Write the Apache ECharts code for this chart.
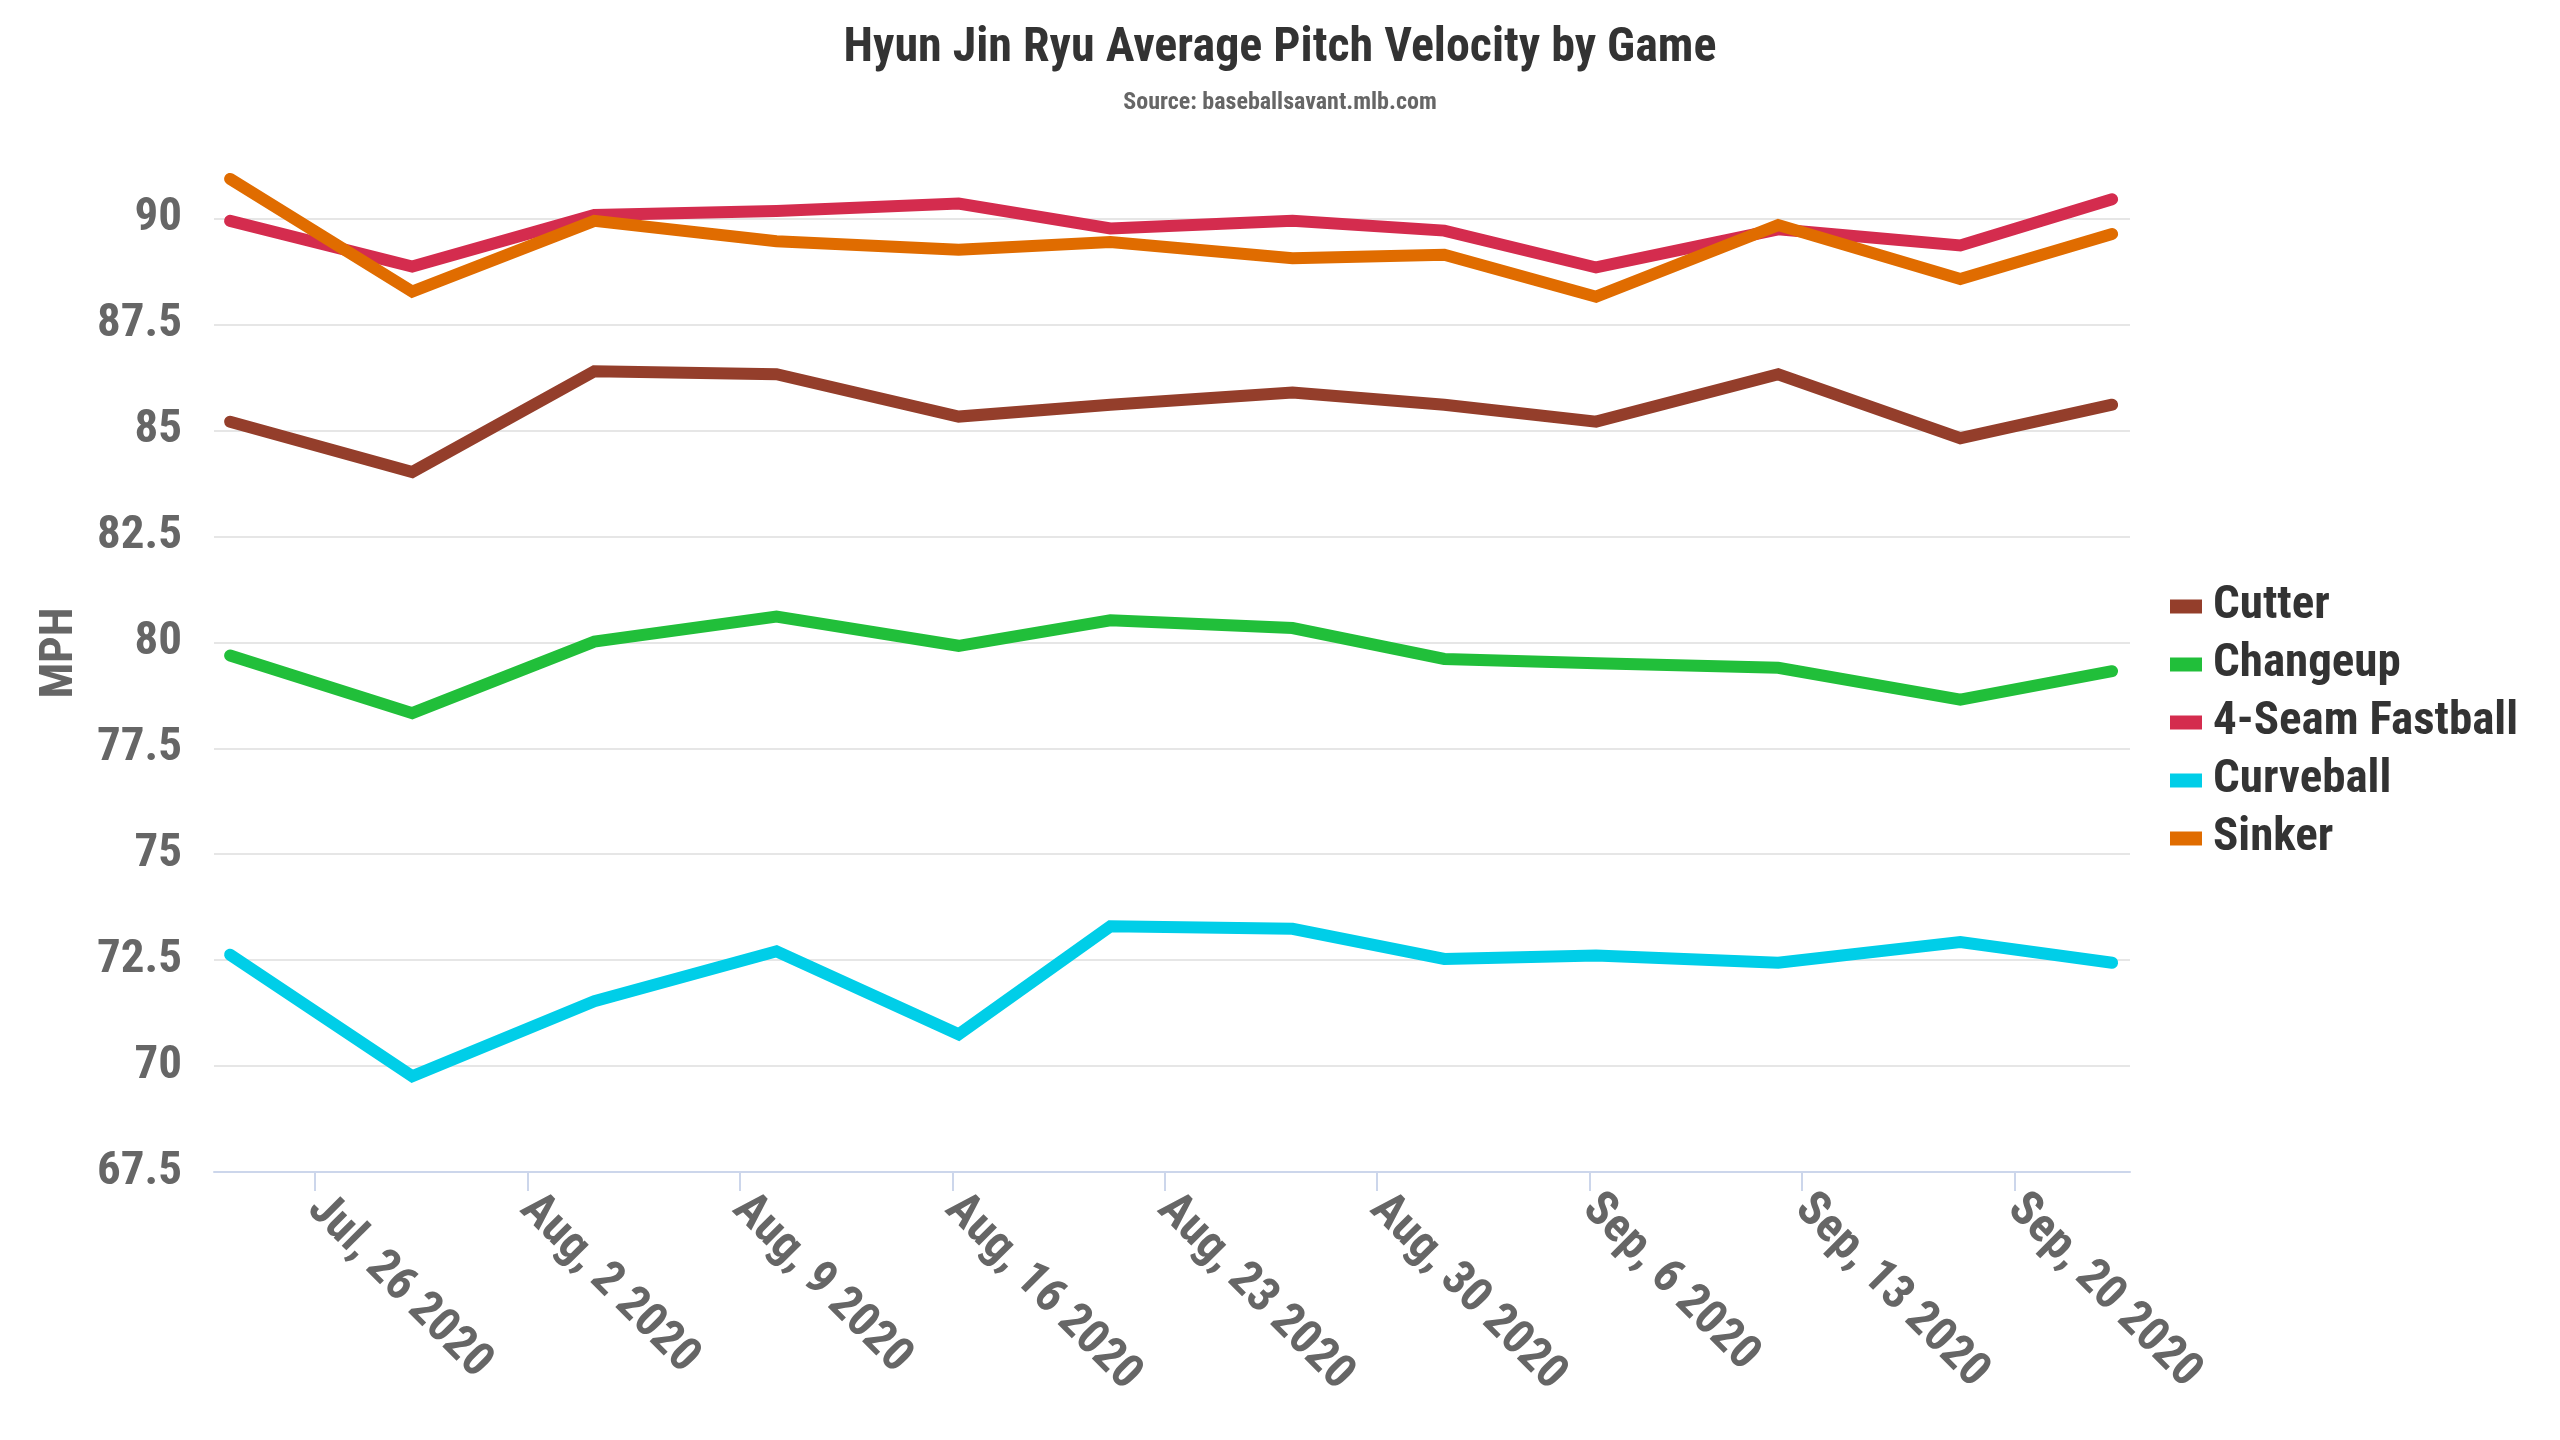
<!DOCTYPE html>
<html>
<head>
<meta charset="utf-8">
<script src="https://cdn.jsdelivr.net/npm/echarts@6/dist/echarts.min.js"></script>
<style>
html,body{margin:0;padding:0;background:#fff;}
#chart{width:2560px;height:1440px;}
</style>
</head>
<body>
<div id="chart"></div>
<script>
// ---- data ----
const gameDates = ['2020-07-24','2020-07-30','2020-08-05','2020-08-11','2020-08-17','2020-08-22',
                   '2020-08-28','2020-09-02','2020-09-07','2020-09-13','2020-09-19','2020-09-24'];
const cutter    = [85.21, 84.02, 86.40, 86.33, 85.33, 85.61, 85.90, 85.61, 85.21, 86.33, 84.82, 85.61];
const changeup  = [79.69, 78.33, 80.02, 80.61, 79.92, 80.52, 80.34, 79.61, 79.51, 79.40, 78.65, 79.32];
const fastball  = [89.95, 88.87, 90.09, 90.18, 90.36, 89.77, 89.95, 89.72, 88.85, 89.75, 89.37, 90.46];
const curveball = [72.63, 69.76, 71.53, 72.71, 70.75, 73.30, 73.24, 72.53, 72.61, 72.44, 72.93, 72.44];
const sinker    = [90.94, 88.28, 89.95, 89.47, 89.27, 89.45, 89.07, 89.15, 88.16, 89.85, 88.58, 89.64];
const seriesNames = ['Cutter','Changeup','4-Seam Fastball','Curveball','Sinker'];
const tickDates  = ['2020-07-26','2020-08-02','2020-08-09','2020-08-16','2020-08-23',
                    '2020-08-30','2020-09-06','2020-09-13','2020-09-20'];
const tickLabels = ['Jul, 26 2020','Aug, 2 2020','Aug, 9 2020','Aug, 16 2020','Aug, 23 2020',
                    'Aug, 30 2020','Sep, 6 2020','Sep, 13 2020','Sep, 20 2020'];
const yTicks = { min: 67.5, max: 92, interval: 2.5 };

// ---- helpers ----
const DAY = 86400000;
const TICK_SHIFT = 19 * 3600000; // week ticks in the source sit ~19h after UTC midnight
function ms(s){ const p = s.split('-').map(Number); return Date.UTC(p[0], p[1]-1, p[2]); }
const xs = gameDates.map(ms);
const tickVals = tickDates.map(d => ms(d) + TICK_SHIFT);
const xMin = xs[0] - 0.53 * DAY;
const xMax = xs[xs.length-1] + 0.59 * DAY;

const colors = ['#943e2b','#21bf3a','#d42c4e','#00cee8','#e06c00'];
const values = [cutter, changeup, fastball, curveball, sinker];

const chart = echarts.init(document.getElementById('chart'), null, {renderer:'canvas'});
const cond = "'Roboto Condensed', 'Roboto', sans-serif";

chart.setOption({
  animation: false,
  backgroundColor: '#ffffff',
  color: colors,
  title: {
    text: 'Hyun Jin Ryu Average Pitch Velocity by Game',
    subtext: 'Source: baseballsavant.mlb.com',
    left: 'center',
    top: 20,
    itemGap: 18,
    textStyle: { fontFamily: cond, fontWeight: 'bold', fontSize: 48, color: '#333333' },
    subtextStyle: { fontFamily: cond, fontWeight: 'bold', fontSize: 24, color: '#666666' }
  },
  legend: {
    orient: 'vertical',
    left: 2170,
    top: 583,
    itemWidth: 32,
    itemHeight: 14,
    itemGap: 11,
    icon: 'rect',
    padding: 0,
    textStyle: { fontFamily: cond, fontWeight: 'bold', fontSize: 47, color: '#333333', padding: [0,0,0,6] },
    data: seriesNames
  },
  grid: { left: 214, right: 430, top: 134, bottom: 268, containLabel: false },
  xAxis: {
    type: 'value',
    min: xMin,
    max: xMax,
    splitLine: { show: false },
    axisLine: { show: true, lineStyle: { color: '#ccd6eb', width: 2 } },
    axisTick: { show: true, length: 19, lineStyle: { color: '#ccd6eb', width: 2 }, customValues: tickVals },
    axisLabel: {
      customValues: tickVals,
      rotate: -45,
      margin: 30,
      fontFamily: cond, fontWeight: 'bold', fontSize: 48, color: '#666666',
      formatter: function(v){ const i = tickVals.indexOf(v); return i >= 0 ? tickLabels[i] : ''; }
    }
  },
  yAxis: {
    type: 'value',
    min: yTicks.min,
    max: yTicks.max,
    interval: yTicks.interval,
    name: 'MPH',
    nameLocation: 'middle',
    nameGap: 130,
    nameTextStyle: { fontFamily: cond, fontWeight: 'bold', fontSize: 47, color: '#666666' },
    axisLine: { show: false },
    axisTick: { show: false },
    splitLine: { show: true, showMaxLine: false, lineStyle: { color: '#e6e6e6', width: 2 } },
    axisLabel: {
      showMaxLabel: false,
      margin: 32,
      fontFamily: cond, fontWeight: 'bold', fontSize: 47, color: '#666666'
    }
  },
  series: seriesNames.map((name, k) => ({
    name: name,
    type: 'line',
    showSymbol: false,
    symbol: 'none',
    silent: true,
    lineStyle: { width: 12, color: colors[k], cap: 'round', join: 'miter' },
    itemStyle: { color: colors[k] },
    data: xs.map((x, i) => [x, values[k][i]])
  }))
});
</script>
</body>
</html>
